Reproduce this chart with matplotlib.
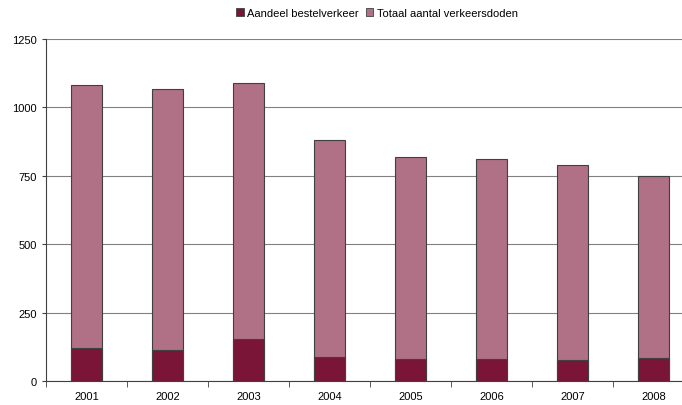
import matplotlib
matplotlib.use("Agg")
import matplotlib.pyplot as plt
import numpy as np
from matplotlib.patches import Patch

plt.rcParams['font.family'] = ['Liberation Sans', 'DejaVu Sans']

years = ['2001', '2002', '2003', '2004', '2005', '2006', '2007', '2008']
totaal = [1083, 1066, 1088, 881, 817, 811, 791, 750]
bestel = [122, 112, 152, 88, 80, 80, 77, 85]

dark = '#7B1538'
light = '#B07086'
edge = '#404040'

fig = plt.figure(figsize=(6.82, 4.06), dpi=100)
ax = fig.add_axes([46/682, 1-382/406, 648/682, 342/406])

x = np.arange(len(years))
w = 0.39
ax.bar(x, totaal, width=w, color=light, edgecolor=edge, linewidth=0.8, zorder=3)
ax.bar(x, bestel, width=w, color=dark, edgecolor=edge, linewidth=0.8, zorder=4)

ax.set_xlim(-0.5, len(years) - 0.5)
ax.set_ylim(0, 1250)
ax.set_yticks([0, 250, 500, 750, 1000, 1250])
ax.yaxis.grid(True, color='#808080', linewidth=0.8, zorder=0)
ax.set_axisbelow(True)

ax.set_xticks(x)
ax.set_xticklabels(years, fontsize=8)
ax.set_xticks(np.arange(-0.5, len(years)), minor=True)
ax.tick_params(axis='x', which='major', length=0, pad=7)
ax.tick_params(axis='x', which='minor', length=4, direction='out', color='#404040')
ax.tick_params(axis='y', labelsize=8, length=3, color='#404040')

for s in ['top', 'right']:
    ax.spines[s].set_visible(False)
ax.spines['left'].set_color('#404040')
ax.spines['bottom'].set_color('#404040')

handles = [Patch(facecolor=dark, edgecolor=edge, linewidth=0.6, label='Aandeel bestelverkeer'),
           Patch(facecolor=light, edgecolor=edge, linewidth=0.6, label='Totaal aantal verkeersdoden')]
fig.legend(handles=handles, loc='center', bbox_to_anchor=(377/682, 1-14/406), ncol=2,
           frameon=False, fontsize=8, handlelength=0.7, handleheight=0.7,
           handletextpad=0.3, columnspacing=0.6)

fig.savefig('out.png', dpi=100)
